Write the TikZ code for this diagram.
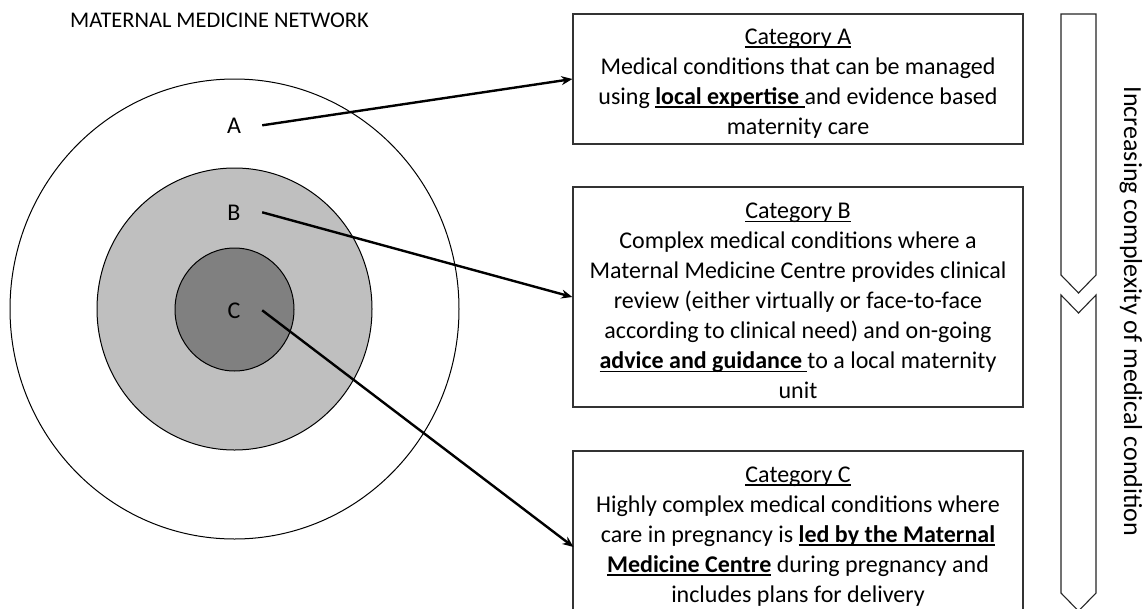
\documentclass[tikz,border=0pt]{standalone}
\usepackage{fontspec}
\setmainfont{Carlito}
\usetikzlibrary{arrows.meta}
\newsavebox{\ulnbox}
\newcommand{\uln}[1]{\sbox{\ulnbox}{#1}\rlap{\rule[-3.5pt]{\wd\ulnbox}{1.3pt}}\usebox{\ulnbox}}
\newcommand{\topstrut}{\rule{0pt}{24pt}}
\tikzset{
  catbox/.style={draw=black!80, line width=1.3pt, minimum width=450pt, inner sep=0pt,
     align=center, font=\fontsize{24}{30}\selectfont},
  ring/.style={draw=black, line width=1pt},
  lbl/.style={font=\fontsize{24}{30}\selectfont, minimum width=56pt, inner sep=0pt, anchor=base},
  conn/.style={line width=2.4pt, -{Stealth[length=11pt,width=9pt]}},
  chev/.style={draw=black!85, line width=1.1pt, fill=white},
}
\begin{document}
\begin{tikzpicture}[x=1pt,y=-1pt]
\useasboundingbox (0,0) rectangle (1143,608);
\begin{scope}
\clip (0,0) rectangle (1143,608);
% title
\node[font=\fontsize{22.4}{28}\selectfont, anchor=base west, inner sep=0pt] (title) at (70,27) {MATERNAL MEDICINE NETWORK};
% circles
\draw[ring, fill=white] (234.5,309) ellipse [x radius=224.5pt, y radius=230pt];
\draw[ring, fill=black!25] (234.5,309) ellipse [x radius=137.5pt, y radius=141pt];
\draw[ring, fill=black!50] (234.5,309.5) ellipse [x radius=59.5pt, y radius=61.5pt];
% labels
\node[lbl] (la) at (234,133) {A};
\node[lbl] (lb) at (234,220) {B};
\node[lbl] (lc) at (234,318) {C};
% boxes
\node[catbox, minimum height=130pt] (boxA) at (798,79) {%
\topstrut\uln{Category A}\\
Medical conditions that can be managed\\
using \uln{\textbf{local expertise}\ }and evidence based\\
maternity care};
\node[catbox, minimum height=220pt] (boxB) at (798,297) {%
\topstrut\uln{Category B}\\
Complex medical conditions where a\\
Maternal Medicine Centre provides clinical\\
review (either virtually or face-to-face\\
according to clinical need) and on-going\\
\uln{\textbf{advice and guidance}\ }to a local maternity\\
unit};
\node[catbox, minimum height=162pt] (boxC) at (798,532) {%
\topstrut\uln{Category C}\\
Highly complex medical conditions where\\
care in pregnancy is \uln{\textbf{led by the Maternal}}\\
\uln{\textbf{Medicine Centre}} during pregnancy and\\
includes plans for delivery};
\coordinate (cC) at (573.5,547);
% connectors
\draw[conn] (la.east) -- (boxA.west);
\draw[conn] (lb.east) -- (boxB.west);
\draw[conn] (lc.east) -- (cC);
% chevrons
\draw[chev] (1061,14) -- (1096,14) -- (1096,275) -- (1078.5,293) -- (1061,275) -- cycle;
\draw[chev] (1061,295) -- (1078.5,313) -- (1096,295) -- (1096,593) -- (1078.5,611) -- (1061,593) -- cycle;
\node[font=\fontsize{26}{32}\selectfont, rotate=-90, inner sep=0pt] (side) at (1131,311.5) {Increasing complexity of medical condition};
\end{scope}
\end{tikzpicture}
\end{document}
